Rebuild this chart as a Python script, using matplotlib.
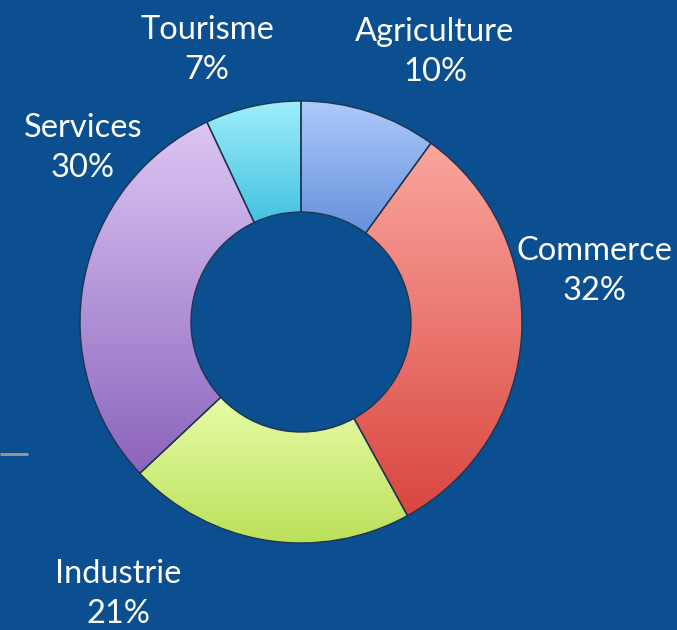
import numpy as np
import matplotlib
matplotlib.use("Agg")
import matplotlib.pyplot as plt
from matplotlib.colors import LinearSegmentedColormap

# --- data ---
labels = ["Agriculture", "Commerce", "Industrie", "Services", "Tourisme"]
values = [10, 32, 21, 30, 7]
# light (top) / dark (bottom) shade of each slice
top_cols = ["#aecafa", "#faa69e", "#e6fca8", "#dcc6f4", "#a0eef9"]
bot_cols = ["#6690dc", "#d9463f", "#bce05a", "#8c64bc", "#44c2e2"]

bg = "#0b4f90"
W, H = 677, 630

fig = plt.figure(figsize=(W / 100, H / 100), dpi=100, facecolor=bg)
ax = fig.add_axes([0, 0, 1, 1])
ax.set_facecolor(bg)

cx, cy = 301, H - 322
R = 221
ring = 111

wedges, _ = ax.pie(values, startangle=90, counterclock=False, radius=R,
                   center=(cx, cy), frame=True,
                   wedgeprops=dict(width=ring, edgecolor="#1c3550", linewidth=1.0))

# vertical light-to-dark shading clipped to each wedge
for w, c1, c2 in zip(wedges, top_cols, bot_cols):
    ext = w.get_path().get_extents()
    cmap = LinearSegmentedColormap.from_list("s", [c2, c1])
    grad = np.linspace(0, 1, 256).reshape(-1, 1)
    im = ax.imshow(grad, cmap=cmap, origin="lower", aspect="auto",
                   extent=[ext.x0, ext.x1, ext.y0, ext.y1], zorder=1)
    im.set_clip_path(w)
    w.set_facecolor("none")
    w.set_zorder(2)

ax.set_xlim(0, W)
ax.set_ylim(0, H)
ax.set_aspect("equal")
ax.axis("off")

# labels
label_pos = [(435, 52), (594, 271), (118, 594), (83, 148), (207, 50)]
for name, v, (x, y) in zip(labels, values, label_pos):
    ax.text(x, H - y, f"{name}\n{v}%", color="white", fontsize=23.5,
            family="Lato", ha="center", va="center", linespacing=1.45)

# little grey rule at left edge
ax.plot([0, 28], [H - 454, H - 454], color="#9a9a9a", lw=2, solid_capstyle="butt")

fig.savefig("out.png", dpi=100, facecolor=bg)
